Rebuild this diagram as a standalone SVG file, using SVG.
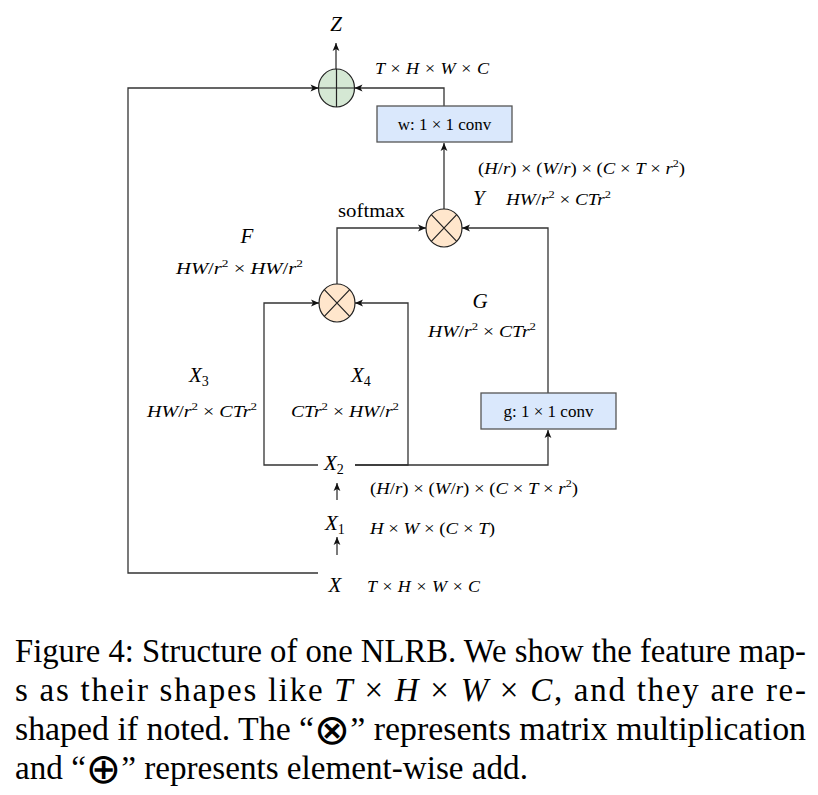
<svg xmlns="http://www.w3.org/2000/svg" width="818" height="795" viewBox="0 0 818 795">
<style>
text{font-family:"Liberation Serif","Times New Roman",serif;fill:#000}
.m{font-size:17px}
.i{font-style:italic}
.v{font-size:21px;font-style:italic}
.sup{font-size:11px;font-style:normal}
.sub{font-size:14px;font-style:normal}
.lbl{font-size:17px}
.cap{font-size:33px}
.sym{font-family:"DejaVu Sans",sans-serif;font-size:42px}
.con{fill:none;stroke:#333;stroke-width:1.3}
.op{stroke:#222;stroke-width:1.2}
.mul{fill:#ffe6cc}
.add{fill:#d5e8d4}
.box{fill:#dae8fc;stroke:#555;stroke-width:1.3}
</style>
<defs>
<marker id="ah" markerUnits="userSpaceOnUse" markerWidth="10" markerHeight="10" viewBox="0 0 10 10" refX="9" refY="5" orient="auto">
<path d="M1,1.6 L9,5 L1,8.4 L3,5 z" fill="#111"/>
</marker>
</defs>
<rect width="818" height="795" fill="#fff"/>

<g id="connectors">
<path class="con" d="M336,70 V43" marker-end="url(#ah)"/>
<path class="con" d="M318,573 H128 V88 H318.5" marker-end="url(#ah)"/>
<path class="con" d="M444,106 V88 H354.5" marker-end="url(#ah)"/>
<path class="con" d="M444,209 V143" marker-end="url(#ah)"/>
<path class="con" d="M337,284 V228 H426" marker-end="url(#ah)"/>
<path class="con" d="M548,393 V228 H462" marker-end="url(#ah)"/>
<path class="con" d="M318,465 H264 V303 H319" marker-end="url(#ah)"/>
<path class="con" d="M355,465 H408 V303 H355" marker-end="url(#ah)"/>
<path class="con" d="M355,465 H548 V430" marker-end="url(#ah)"/>
<path class="con" d="M337,500 V483" marker-end="url(#ah)"/>
<path class="con" d="M337,555 V537" marker-end="url(#ah)"/>
</g>

<g id="add">
<ellipse class="add op" cx="336.5" cy="88" rx="18" ry="19"/>
<path class="op" d="M336.5,69 V107 M318.5,88 H354.5"/>
</g>

<g id="w_conv">
<rect class="box" x="377" y="106" width="135" height="36"/>
<text class="lbl" x="444.5" y="129.5" text-anchor="middle">w: 1 × 1 conv</text>
</g>

<g id="mul_y">
<ellipse class="mul op" cx="444" cy="228" rx="18" ry="19"/>
<path class="op" d="M431.3,214.6 L456.7,241.4 M456.7,214.6 L431.3,241.4"/>
</g>

<g id="mul_f">
<ellipse class="mul op" cx="337" cy="303" rx="18" ry="19"/>
<path class="op" d="M324.3,289.6 L349.7,316.4 M349.7,289.6 L324.3,316.4"/>
</g>

<g id="g_conv">
<rect class="box" x="481" y="393" width="135" height="36"/>
<text class="lbl" x="548.5" y="416.5" text-anchor="middle">g: 1 × 1 conv</text>
</g>

<g id="Z">
<text class="v" x="336" y="31" text-anchor="middle">Z</text>
<text class="m i" x="375" y="74" textLength="114" lengthAdjust="spacingAndGlyphs">T × H × W × C</text>
</g>

<g id="Y">
<text class="m" x="478" y="174" textLength="207" lengthAdjust="spacingAndGlyphs">(<tspan class="i">H</tspan>/<tspan class="i">r</tspan>) × (<tspan class="i">W</tspan>/<tspan class="i">r</tspan>) × (<tspan class="i">C</tspan> × <tspan class="i">T</tspan> × <tspan class="i">r</tspan><tspan class="sup" dy="-7">2</tspan><tspan dy="7">)</tspan></text>
<text class="v" x="473" y="205">Y</text>
<text class="m" x="506" y="205" textLength="105" lengthAdjust="spacingAndGlyphs"><tspan class="i">HW</tspan>/<tspan class="i">r</tspan><tspan class="sup" dy="-7">2</tspan><tspan dy="7"> × </tspan><tspan class="i">CTr</tspan><tspan class="sup" dy="-7">2</tspan></text>
</g>

<g id="softmax">
<text x="338" y="217" font-size="19" textLength="67" lengthAdjust="spacingAndGlyphs">softmax</text>
</g>

<g id="F">
<text class="v" x="247" y="243" text-anchor="middle">F</text>
<text class="m" x="176" y="274" textLength="127" lengthAdjust="spacingAndGlyphs"><tspan class="i">HW</tspan>/<tspan class="i">r</tspan><tspan class="sup" dy="-7">2</tspan><tspan dy="7"> × </tspan><tspan class="i">HW</tspan>/<tspan class="i">r</tspan><tspan class="sup" dy="-7">2</tspan></text>
</g>

<g id="G">
<text class="v" x="480" y="308" text-anchor="middle">G</text>
<text class="m" x="428" y="337" textLength="108" lengthAdjust="spacingAndGlyphs"><tspan class="i">HW</tspan>/<tspan class="i">r</tspan><tspan class="sup" dy="-7">2</tspan><tspan dy="7"> × </tspan><tspan class="i">CTr</tspan><tspan class="sup" dy="-7">2</tspan></text>
</g>

<g id="X3">
<text class="v" x="189" y="382">X<tspan class="sub" dy="4">3</tspan></text>
<text class="m" x="147" y="417" textLength="110" lengthAdjust="spacingAndGlyphs"><tspan class="i">HW</tspan>/<tspan class="i">r</tspan><tspan class="sup" dy="-7">2</tspan><tspan dy="7"> × </tspan><tspan class="i">CTr</tspan><tspan class="sup" dy="-7">2</tspan></text>
</g>

<g id="X4">
<text class="v" x="351" y="382">X<tspan class="sub" dy="4">4</tspan></text>
<text class="m" x="291" y="417" textLength="108" lengthAdjust="spacingAndGlyphs"><tspan class="i">CTr</tspan><tspan class="sup" dy="-7">2</tspan><tspan dy="7"> × </tspan><tspan class="i">HW</tspan>/<tspan class="i">r</tspan><tspan class="sup" dy="-7">2</tspan></text>
</g>

<g id="X2">
<text class="v" x="324" y="470">X<tspan class="sub" dy="4">2</tspan></text>
<text class="m" x="370" y="494" textLength="208" lengthAdjust="spacingAndGlyphs">(<tspan class="i">H</tspan>/<tspan class="i">r</tspan>) × (<tspan class="i">W</tspan>/<tspan class="i">r</tspan>) × (<tspan class="i">C</tspan> × <tspan class="i">T</tspan> × <tspan class="i">r</tspan><tspan class="sup" dy="-7">2</tspan><tspan dy="7">)</tspan></text>
</g>

<g id="X1">
<text class="v" x="325" y="530">X<tspan class="sub" dy="4">1</tspan></text>
<text class="m" x="370" y="534" textLength="125" lengthAdjust="spacingAndGlyphs"><tspan class="i">H</tspan> × <tspan class="i">W</tspan> × (<tspan class="i">C</tspan> × <tspan class="i">T</tspan>)</text>
</g>

<g id="X">
<text class="v" x="335" y="592" text-anchor="middle">X</text>
<text class="m i" x="367" y="592" textLength="113" lengthAdjust="spacingAndGlyphs">T × H × W × C</text>
</g>

<g id="caption">
<text class="cap" x="15" y="662" textLength="791" lengthAdjust="spacingAndGlyphs">Figure 4: Structure of one NLRB. We show the feature map-</text>
<text class="cap" x="15" y="701" textLength="791" lengthAdjust="spacing">s as their shapes like <tspan class="i">T</tspan> × <tspan class="i">H</tspan> × <tspan class="i">W</tspan> × <tspan class="i">C</tspan>, and they are re-</text>
<text class="cap" x="15" y="740" textLength="791" lengthAdjust="spacingAndGlyphs">shaped if noted. The “<tspan class="sym" dy="4">⊗</tspan><tspan dy="-4">” represents matrix multiplication</tspan></text>
<text class="cap" x="15" y="779" textLength="513" lengthAdjust="spacingAndGlyphs">and “<tspan class="sym" dy="4">⊕</tspan><tspan dy="-4">” represents element-wise add.</tspan></text>
</g>
</svg>
